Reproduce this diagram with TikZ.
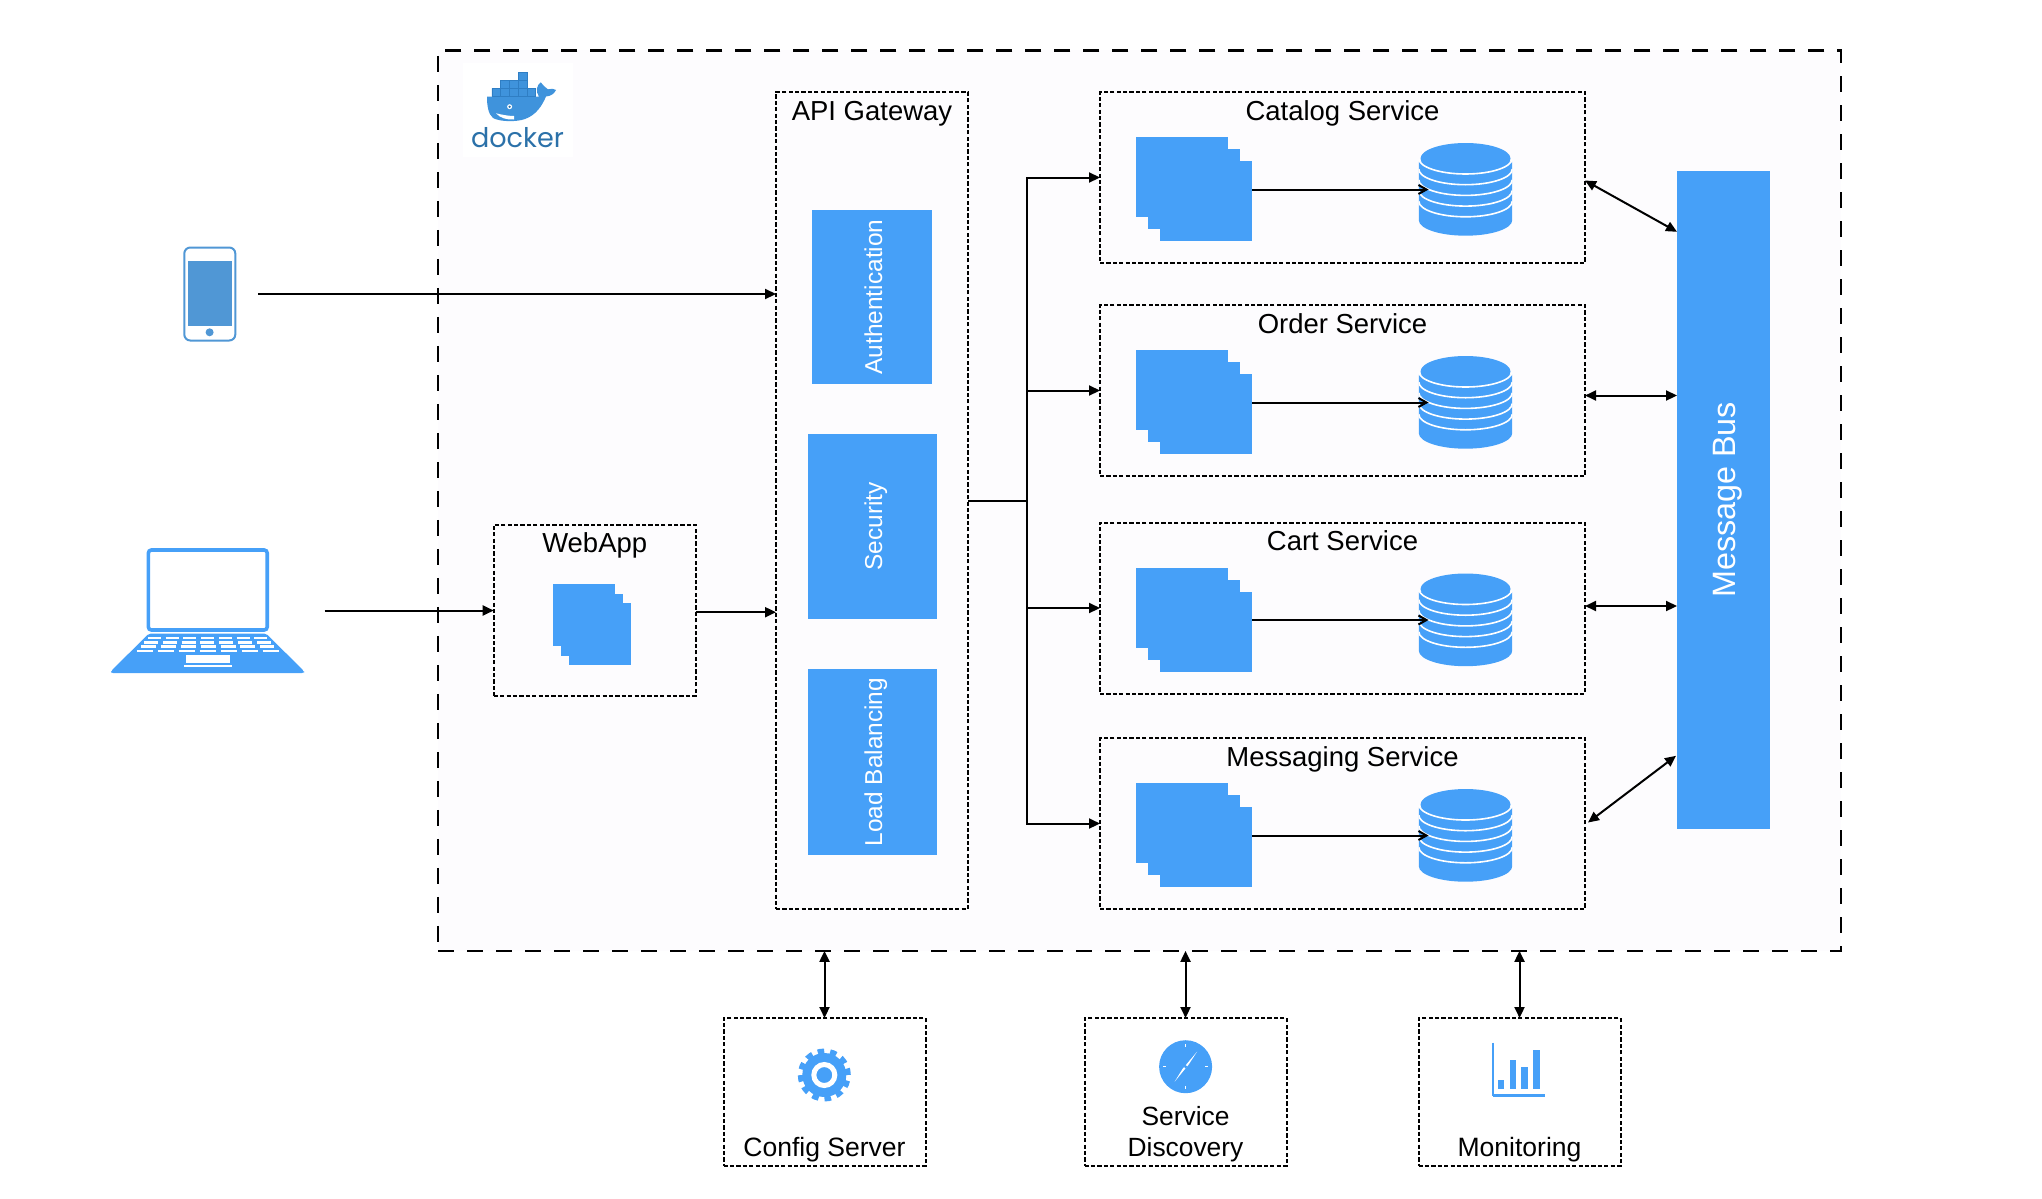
\documentclass[tikz,border=0pt]{standalone}
\usepackage{fontspec}
\setmainfont{Liberation Sans}
\newfontfamily\dockerfont{Poppins}
\usepackage{tikz}
\usetikzlibrary{shapes, arrows.meta, positioning}
\definecolor{tileblue}{HTML}{46A0F8}
\definecolor{phoneblue}{HTML}{5097D5}
\definecolor{whaleblue}{HTML}{3F93DC}
\definecolor{whaleline}{HTML}{2F7EC4}
\definecolor{whaletext}{HTML}{2B71A9}
\definecolor{hostfill}{HTML}{FDFCFE}

\begin{document}
\begin{tikzpicture}[
        >={Triangle[length=0.11cm, width=0.1cm]},
        every node/.style={outer sep=0pt, inner sep=0pt},
        hostbox/.style={rectangle, draw, fill=hostfill, line width=0.024cm, dash pattern=on 0.16cm off 0.13cm, minimum width=14.03cm, minimum height=9.005cm},
        groupbox/.style={rectangle, draw, line width=0.02cm, dash pattern=on 0.042cm off 0.022cm},
        svcbox/.style={groupbox, minimum width=4.85cm, minimum height=1.71cm},
        toolbox/.style={groupbox, minimum width=2.02cm, minimum height=1.48cm},
        tile/.style={rectangle, fill=tileblue, text=white, rotate=90, font=\fontsize{6.95}{8}\selectfont, text height=0.2cm, text depth=0cm},
        sheet/.style={rectangle, fill=tileblue, anchor=north west, minimum width=0.92cm, minimum height=0.8cm},
        smallsheet/.style={sheet, minimum width=0.625cm, minimum height=0.62cm},
        title/.style={font=\fontsize{7.82}{8.8}\selectfont, text height=0.2cm, text depth=0.06cm},
        tooltitle/.style={font=\fontsize{7.55}{8.8}\selectfont, text height=0.2cm, text depth=0.06cm},
        link/.style={->, line width=0.02cm},
        duplex/.style={<->, line width=0.02cm},
        keyrow/.style={white, line width=0.025cm},
        dbase/.style={rectangle, minimum width=0.94cm, minimum height=0.94cm, path picture={
            \begin{scope}[shift={(path picture bounding box.center)}]
                \fill[tileblue] (-0.467,0.28) -- (-0.467,-0.307) arc[start angle=180, end angle=360, x radius=0.467, y radius=0.155] -- (0.467,0.28) -- cycle;
                \fill[tileblue] (0,0.31) ellipse[x radius=0.45, y radius=0.155];
                \draw[white, line width=0.016cm] (-0.467,0.31) arc[start angle=180, end angle=360, x radius=0.467, y radius=0.155];
                \draw[white, line width=0.016cm] (-0.467,0.203) arc[start angle=180, end angle=360, x radius=0.467, y radius=0.155];
                \draw[white, line width=0.016cm] (-0.467,0.096) arc[start angle=180, end angle=360, x radius=0.467, y radius=0.155];
                \draw[white, line width=0.016cm] (-0.467,-0.011) arc[start angle=180, end angle=360, x radius=0.467, y radius=0.155];
                \draw[white, line width=0.016cm] (-0.467,-0.118) arc[start angle=180, end angle=360, x radius=0.467, y radius=0.155];
            \end{scope}}},
        dbarrow/.style={-{Straight Barb[length=0.08cm, width=0.09cm]}, line width=0.02cm}
    ]
        \useasboundingbox (0,0) rectangle (20.42,-11.98);

        % Host
        \node[hostbox] (host) at (11.395,-5.006) {};
        \fill[white] (4.63,-0.63) rectangle (5.73,-1.57);

        % Docker logo
        \fill[whaleblue] (4.87,-0.967) -- (5.39,-0.967) .. controls (5.35,-0.91) and (5.37,-0.85) .. (5.407,-0.823) .. controls (5.43,-0.85) and (5.45,-0.875) .. (5.479,-0.893) .. controls (5.51,-0.885) and (5.54,-0.885) .. (5.56,-0.9) .. controls (5.54,-0.94) and (5.51,-0.96) .. (5.46,-0.965) .. controls (5.42,-1.06) and (5.36,-1.15) .. (5.25,-1.19) .. controls (5.17,-1.22) and (5.0,-1.22) .. (4.93,-1.18) .. controls (4.88,-1.14) and (4.87,-1.05) .. cycle;
        \fill[white] (4.96,-1.133) .. controls (5.03,-1.15) and (5.09,-1.16) .. (5.14,-1.16) -- (5.14,-1.195) .. controls (5.07,-1.2) and (5.0,-1.18) .. cycle;
        \fill[white] (5.096,-1.067) circle (0.025);
        \fill[whaletext] (5.096,-1.067) circle (0.012);
        \filldraw[fill=whaleblue, draw=whaleline, line width=0.006cm]
            (4.918,-0.883) rectangle (5.005,-0.967) (5.005,-0.883) rectangle (5.093,-0.967)
            (5.093,-0.883) rectangle (5.18,-0.967) (5.18,-0.883) rectangle (5.268,-0.967)
            (5.268,-0.883) rectangle (5.355,-0.967)
            (5.005,-0.807) rectangle (5.093,-0.883) (5.093,-0.807) rectangle (5.18,-0.883)
            (5.18,-0.807) rectangle (5.268,-0.883)
            (5.18,-0.723) rectangle (5.268,-0.807);
        \node[text=whaletext, font=\dockerfont\fontsize{7.7}{9}\selectfont] (dockername) at (5.175,-1.38) {docker};

        % Clients
        \node[rectangle, draw=phoneblue, line width=0.02cm, rounded corners=0.06cm, minimum width=0.51cm, minimum height=0.93cm] (phone) at (2.098,-2.94) {};
        \fill[phoneblue] (1.875,-2.61) rectangle (2.32,-3.26);
        \fill[phoneblue] (2.096,-3.323) circle (0.04);

        \node[rectangle, minimum width=1.93cm, minimum height=1.25cm] (laptop) at (2.075,-6.105) {};
        \draw[tileblue, line width=0.036cm, rounded corners=0.03cm] (1.484,-5.5) rectangle (2.672,-6.3);
        \fill[tileblue, rounded corners=0.02cm] (1.49,-6.335) -- (2.66,-6.335) -- (3.04,-6.71) -- (3.04,-6.73) -- (1.11,-6.73) -- (1.11,-6.71) -- cycle;
        \draw[keyrow, dash pattern=on 0.13cm off 0.047cm] (1.48,-6.38) -- (2.67,-6.38);
        \draw[keyrow, dash pattern=on 0.14cm off 0.048cm] (1.44,-6.423) -- (2.71,-6.423);
        \draw[keyrow, dash pattern=on 0.15cm off 0.049cm] (1.41,-6.467) -- (2.74,-6.467);
        \draw[keyrow, dash pattern=on 0.16cm off 0.05cm] (1.365,-6.51) -- (2.785,-6.51);
        \fill[white] (1.856,-6.55) rectangle (2.30,-6.627);
        \draw[white, line width=0.02cm] (1.84,-6.66) -- (2.315,-6.66);

        % WebApp
        \node[groupbox, minimum width=2.02cm, minimum height=1.71cm] (webapp) at (5.947,-6.102) {};
        \node[title] (webapptitle) at ([yshift=-0.21cm]webapp.north) {WebApp};
        \node[smallsheet] (webappA) at ([shift={(0.59,-0.59)}]webapp.north west) {};
        \node[smallsheet] (webappB) at ([shift={(0.08,-0.1)}]webappA.north west) {};
        \node[smallsheet] (webappC) at ([shift={(0.08,-0.09)}]webappB.north west) {};

        % API gateway
        \node[groupbox, minimum width=1.92cm, minimum height=8.17cm] (gateway) at (8.72,-5.005) {};
        \node[title] (gatewaytitle) at ([yshift=-0.21cm]gateway.north) {API Gateway};
        \node[tile, minimum width=1.74cm, minimum height=1.2cm] (auth) at (8.72,-2.97) {Authentication};
        \node[tile, minimum width=1.85cm, minimum height=1.29cm] (security) at (8.72,-5.265) {Security};
        \node[tile, minimum width=1.86cm, minimum height=1.29cm] (balancer) at (8.72,-7.62) {Load Balancing};

        % Services
        \node[svcbox] (catalog) at (13.425,-1.775) {};
        \node[svcbox, below=0.42cm of catalog] (order) {};
        \node[svcbox, below=0.465cm of order] (cart) {};
        \node[svcbox, below=0.445cm of cart] (messaging) {};

        \node[title] (catalogtitle) at ([yshift=-0.21cm]catalog.north) {Catalog Service};
        \node[title] (ordertitle) at ([yshift=-0.21cm]order.north) {Order Service};
        \node[title] (carttitle) at ([yshift=-0.21cm]cart.north) {Cart Service};
        \node[title] (messagingtitle) at ([yshift=-0.21cm]messaging.north) {Messaging Service};

        \node[sheet] (catalogA) at ([shift={(0.36,-0.45)}]catalog.north west) {};
        \node[sheet] (catalogB) at ([shift={(0.12,-0.12)}]catalogA.north west) {};
        \node[sheet] (catalogC) at ([shift={(0.12,-0.12)}]catalogB.north west) {};
        \node[dbase] (catalogdb) at ([shift={(3.655,-0.975)}]catalog.north west) {};

        \node[sheet] (orderA) at ([shift={(0.36,-0.45)}]order.north west) {};
        \node[sheet] (orderB) at ([shift={(0.12,-0.12)}]orderA.north west) {};
        \node[sheet] (orderC) at ([shift={(0.12,-0.12)}]orderB.north west) {};
        \node[dbase] (orderdb) at ([shift={(3.655,-0.975)}]order.north west) {};

        \node[sheet] (cartA) at ([shift={(0.36,-0.45)}]cart.north west) {};
        \node[sheet] (cartB) at ([shift={(0.12,-0.12)}]cartA.north west) {};
        \node[sheet] (cartC) at ([shift={(0.12,-0.12)}]cartB.north west) {};
        \node[dbase] (cartdb) at ([shift={(3.655,-0.975)}]cart.north west) {};

        \node[sheet] (messagingA) at ([shift={(0.36,-0.45)}]messaging.north west) {};
        \node[sheet] (messagingB) at ([shift={(0.12,-0.12)}]messagingA.north west) {};
        \node[sheet] (messagingC) at ([shift={(0.12,-0.12)}]messagingB.north west) {};
        \node[dbase] (messagingdb) at ([shift={(3.655,-0.975)}]messaging.north west) {};

        % Message bus
        \node[tile, minimum width=6.58cm, minimum height=0.93cm, font=\fontsize{9.2}{11}\selectfont, text height=0.23cm] (bus) at (17.235,-4.998) {Message Bus};

        % Bottom row
        \node[toolbox] (config) at (8.245,-10.92) {};
        \node[toolbox, right=1.59cm of config] (discovery) {};
        \node[toolbox, right=1.32cm of discovery] (monitoring) {};

        \node[tooltitle] (configtitle) at ([yshift=0.165cm]config.south) {Config Server};
        \node[font=\fontsize{7.5}{9}\selectfont, align=center] (discoverytitle) at ([yshift=0.32cm]discovery.south) {Service\\Discovery};
        \node[tooltitle] (monitoringtitle) at ([yshift=0.165cm]monitoring.south) {Monitoring};

        % Gear
        \node[circle, fill=tileblue, minimum size=0.44cm] (gear) at (8.243,-10.75) {};
        \draw[tileblue, line width=0.06cm, dash pattern=on 0.065cm off 0.058cm] (gear.center) circle (0.235);
        \draw[white, line width=0.05cm] (gear.center) circle (0.105);

        % Compass
        \node[circle, fill=tileblue, minimum size=0.53cm] (compass) at (11.856,-10.667) {};
        \fill[white] (11.97,-10.517) -- (11.888,-10.643) -- (11.746,-10.817) -- (11.824,-10.691) -- cycle;
        \fill[tileblue] (compass.center) circle (0.018);
        \draw[white, line width=0.012cm] (11.856,-10.44) -- (11.856,-10.47) (11.856,-10.864) -- (11.856,-10.894)
            (11.629,-10.667) -- (11.659,-10.667) (12.053,-10.667) -- (12.083,-10.667);

        % Chart
        \node[rectangle, minimum width=0.52cm, minimum height=0.53cm] (chart) at (15.19,-10.69) {};
        \draw[tileblue, line width=0.015cm] (chart.north west) -- (chart.south west);
        \draw[tileblue, line width=0.024cm] (chart.south west) -- (chart.south east);
        \fill[tileblue] (14.98,-10.8) rectangle (15.04,-10.89);
        \fill[tileblue] (15.096,-10.6) rectangle (15.16,-10.89);
        \fill[tileblue] (15.21,-10.67) rectangle (15.28,-10.89);
        \fill[tileblue] (15.33,-10.5) rectangle (15.40,-10.89);

        % Arrows clients
        \draw[link, shorten <=0.23cm] (phone.east) -- (phone.east -| gateway.west);
        \draw[link, shorten <=0.205cm] (laptop.east) -- (laptop.east -| webapp.west);
        \draw[link] ([yshift=-0.02cm]webapp.east) -- ([yshift=-0.02cm]webapp.east -| gateway.west);

        % Arrows gateway
        \coordinate (hub) at (10.27,-5.005);
        \draw[line width=0.02cm] (gateway.east) -- (hub);
        \draw[link] (hub) |- (catalog.west);
        \draw[link] (hub) |- (order.west);
        \draw[link] (hub) |- (cart.west);
        \draw[link] (hub) |- (messaging.west);

        % Arrows service to database
        \draw[dbarrow] (catalogC.east |- catalogdb.west) -- ([xshift=0.1cm]catalogdb.west);
        \draw[dbarrow] (orderC.east |- orderdb.west) -- ([xshift=0.1cm]orderdb.west);
        \draw[dbarrow] (cartC.east |- cartdb.west) -- ([xshift=0.1cm]cartdb.west);
        \draw[dbarrow] (messagingC.east |- messagingdb.west) -- ([xshift=0.1cm]messagingdb.west);

        % Arrows message bus
        \draw[duplex] ([yshift=-0.03cm]catalog.east) -- ([yshift=-0.61cm]bus.north east);
        \draw[duplex] ([yshift=-0.05cm]order.east) -- ([yshift=-0.05cm]order.east -| bus.north);
        \draw[duplex] ([yshift=0.02cm]cart.east) -- ([yshift=0.02cm]cart.east -| bus.north);
        \draw[duplex] ([shift={(0.03,0.01)}]messaging.east) -- ([shift={(-0.01,0.73)}]bus.north west);

        % Arrows bottom row
        \draw[duplex] (config.north) -- (config.north |- host.south);
        \draw[duplex] (discovery.north) -- (discovery.north |- host.south);
        \draw[duplex] (monitoring.north) -- (monitoring.north |- host.south);
    \end{tikzpicture}
\end{document}
